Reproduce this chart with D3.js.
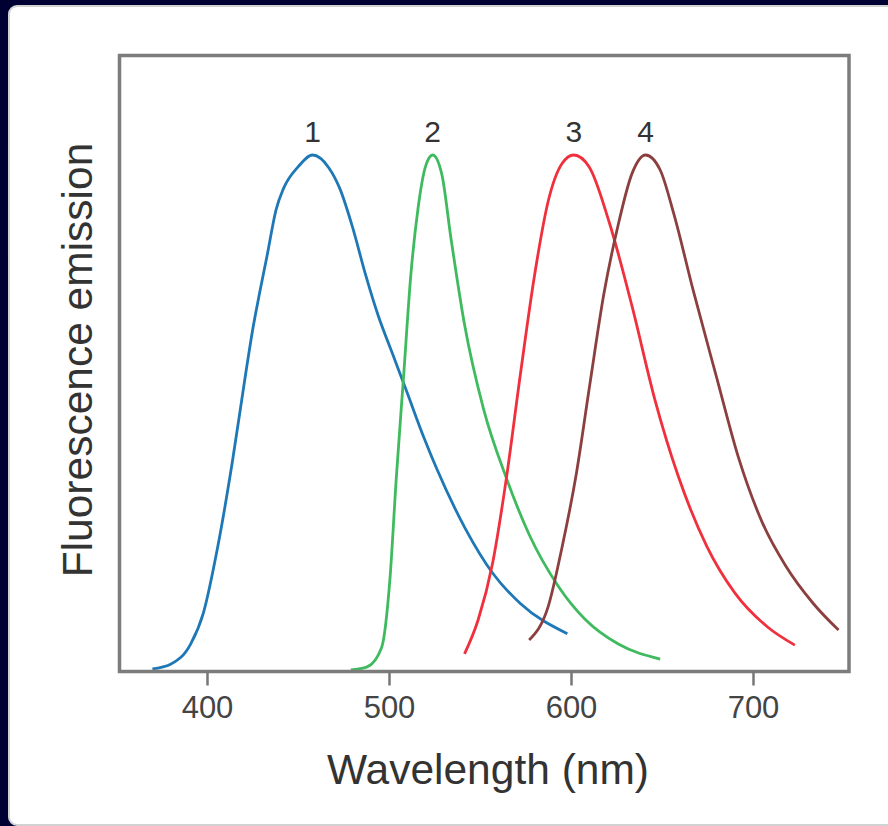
<!DOCTYPE html>
<html>
<head>
<meta charset="utf-8">
<script src="https://cdn.jsdelivr.net/npm/d3@7"></script>
<style>
  html,body{margin:0;padding:0;background:#000033;}
  svg{display:block;}
  text{font-family:"Liberation Sans",Arial,sans-serif;}
</style>
</head>
<body>
<div id="chart"></div>
<script>
// emission spectra (wavelength in nm, relative emission)
var dye1Nm=[370,380,391,398,406,414,421,425,429,433,438,442,450,458,467,473,480,487,494,502,510,519,526,542,557,572,598];
var dye1Val=[0.006,0.015,0.054,0.114,0.244,0.408,0.571,0.66,0.735,0.805,0.895,0.935,0.977,1.0,0.975,0.935,0.86,0.77,0.69,0.615,0.54,0.455,0.395,0.277,0.191,0.133,0.074];
var dye2Nm=[479,488,496,500.5,504,508,512,516,520,524,529,534,541.5,552,564.5,577,593,608,626,649];
var dye2Val=[0.004,0.01,0.048,0.179,0.375,0.571,0.768,0.898,0.977,1.0,0.963,0.84,0.672,0.508,0.375,0.266,0.166,0.101,0.054,0.025];
var dye3Nm=[541.5,549,557,564.5,572,580,587.5,595,601.5,610,621,633.5,646,659,674.5,690,708,723];
var dye3Val=[0.035,0.101,0.212,0.375,0.571,0.768,0.911,0.983,1.0,0.977,0.87,0.708,0.528,0.378,0.244,0.153,0.087,0.052];
var dye4Nm=[577,587.5,595,603,610.5,618,626,633.5,641,649,656.5,667,680,692,705,718,733,747];
var dye4Val=[0.062,0.127,0.24,0.385,0.56,0.73,0.866,0.964,1.0,0.971,0.886,0.74,0.57,0.415,0.29,0.205,0.133,0.081];

var dyeLabels=['1','2','3','4'];
var dyeColors=['#1f78b6','#3fba5f','#f0303c','#8c3f3f'];
var xTicks=[400,500,600,700];
var xTitle='Wavelength (nm)';
var yTitle='Fluorescence emission';

var W=888,H=826;
var svg=d3.select('#chart').append('svg')
    .attr('width',W)
    .attr('height',H);

// white card
svg.append('rect')
    .attr('x',9).attr('y',6)
    .attr('width',900).attr('height',819)
    .attr('rx',8)
    .attr('fill','#fff')
    .attr('stroke','#d2d2d2')
    .attr('stroke-width',2);

var plot={left:119.5,right:849,top:55.5,bottom:671.5};

var x=d3.scaleLinear().domain([400,700]).range([207,753]);
var y=d3.scaleLinear().domain([0,1]).range([672,155]);

var series=[
    {nm:dye1Nm,val:dye1Val},
    {nm:dye2Nm,val:dye2Val},
    {nm:dye3Nm,val:dye3Val},
    {nm:dye4Nm,val:dye4Val}
].map(function(s,i){
    return {
        label:dyeLabels[i],
        color:dyeColors[i],
        points:s.nm.map(function(n,j){return {nm:n,v:s.val[j]};})
    };
});

var line=d3.line()
    .x(function(d){return x(d.nm);})
    .y(function(d){return y(d.v);})
    .curve(d3.curveMonotoneX);

svg.selectAll('.spectrum')
    .data(series)
    .enter()
    .append('path')
    .attr('class','spectrum')
    .attr('d',function(d){return line(d.points);})
    .attr('fill','none')
    .attr('stroke',function(d){return d.color;})
    .attr('stroke-width',2.8);

// peak numbers
svg.selectAll('.peak')
    .data(series)
    .enter()
    .append('text')
    .attr('class','peak')
    .attr('x',function(d){
        var m=d3.greatest(d.points,function(p){return p.v;});
        return x(m.nm);
    })
    .attr('y',142)
    .attr('text-anchor','middle')
    .attr('font-size',30)
    .attr('fill','#333')
    .text(function(d){return d.label;});

// frame
svg.append('rect')
    .attr('x',plot.left).attr('y',plot.top)
    .attr('width',plot.right-plot.left)
    .attr('height',plot.bottom-plot.top)
    .attr('fill','none')
    .attr('stroke','#7c7c7c')
    .attr('stroke-width',3.5);

// x axis ticks
var xAxis=d3.axisBottom(x)
    .tickValues(xTicks)
    .tickSize(14)
    .tickPadding(10)
    .tickFormat(d3.format('d'));

var gx=svg.append('g')
    .attr('transform','translate(0,'+plot.bottom+')')
    .call(xAxis);
gx.select('.domain').remove();
gx.selectAll('.tick line')
    .attr('stroke','#777')
    .attr('stroke-width',2.5);
gx.selectAll('.tick text')
    .attr('font-size',31)
    .attr('fill','#444')
    .attr('font-family','"Liberation Sans",Arial,sans-serif');

// titles
svg.append('text')
    .attr('x',488)
    .attr('y',784)
    .attr('text-anchor','middle')
    .attr('font-size',42.5)
    .attr('fill','#333')
    .text(xTitle);

svg.append('text')
    .attr('transform','translate(92,360) rotate(-90)')
    .attr('text-anchor','middle')
    .attr('font-size',42.5)
    .attr('fill','#333')
    .text(yTitle);
</script>
</body>
</html>
